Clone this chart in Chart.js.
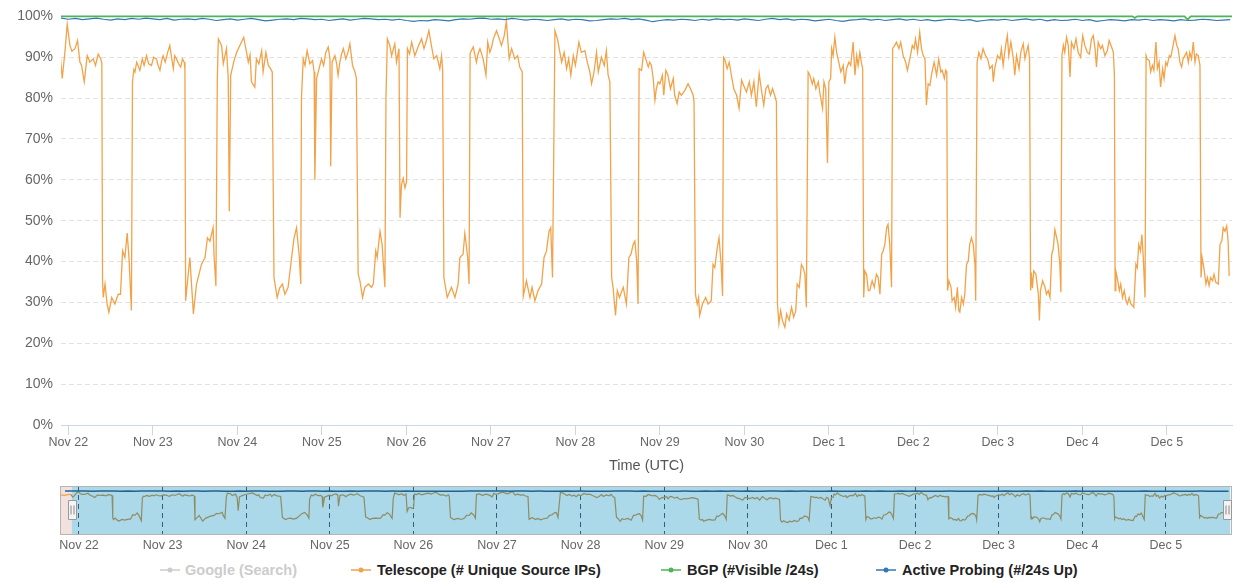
<!DOCTYPE html>
<html><head><meta charset="utf-8">
<script src="https://cdn.jsdelivr.net/npm/chart.js@4.4.1/dist/chart.umd.min.js"></script>
<style>
html,body{margin:0;padding:0;background:#fff;}
body{width:1236px;height:582px;position:relative;overflow:hidden;font-family:"Liberation Sans",Arial,Helvetica,sans-serif;}
#mainWrap{position:absolute;left:0;top:0;width:1236px;height:480px;}
#navWrap{position:absolute;left:0;top:480px;width:1236px;height:80px;}
.lg{position:absolute;top:561px;height:18px;line-height:18px;font-size:14.5px;font-weight:bold;color:#222;white-space:nowrap;}
.lg svg{position:absolute;top:4px;left:0;}
.lg span{position:absolute;top:0;}
</style></head>
<body>
<div id="mainWrap"><canvas id="main" width="1236" height="480"></canvas></div>
<div id="navWrap"><canvas id="nav" width="1236" height="80"></canvas></div>
<div id="legend"></div>
<script>
// ---- data (hours from Nov 22 00:00 UTC) ----
const dayHours = [0,24,48,72,96,120,144,168,192,216,240,264,288,312];
const dayLabels = ['Nov 22','Nov 23','Nov 24','Nov 25','Nov 26','Nov 27','Nov 28','Nov 29','Nov 30','Dec 1','Dec 2','Dec 3','Dec 4','Dec 5'];
const yTicks = [0,10,20,30,40,50,60,70,80,90,100];

const telescope = [
[-5.3,90.4],[-4.2,89.2],[-3.2,91.0],[-2.4,91.2],[-1.75,84.8],[-1.0,91.2],[-0.33,98.1],[0.43,92.9],[1.0,91.5],[1.85,92.1],[2.6,94.1],[3.27,88.8],[3.74,88.0],[4.5,84.0],[5.35,90.4],[6.1,88.8],[7.05,89.6],[7.7,88.0],[8.47,90.8],[9.2,89.6],[9.5,88.5],
[9.7,35.3],[9.9,31.2],[10.4,34.5],[11.0,29.6],[11.5,27.6],[12.3,31.2],[13.2,29.6],[14.15,32.0],[14.8,32.0],[15.4,42.6],[16.05,41.0],[16.7,47.0],[17.2,41.0],[17.9,28.0],
[18.2,84.0],[18.6,87.0],[18.9,86.4],[19.4,88.8],[19.8,88.0],[20.3,86.8],[21.0,89.6],[21.5,88.0],[22.2,90.4],[22.8,88.4],[23.6,88.0],[24.2,90.0],[25.0,89.6],[25.5,88.0],[26.0,86.8],[26.5,89.2],[26.9,90.4],[27.5,88.8],[28.2,91.2],[28.8,92.9],[29.3,90.0],[29.8,87.2],[30.2,90.4],[30.7,89.6],[31.3,88.4],[31.9,87.6],[32.4,89.6],[32.9,88.8],[33.1,87.0],
[33.3,30.4],[34.5,41.0],[35.5,27.2],[36.4,34.5],[37.8,39.3],[38.8,41.0],[39.5,45.8],[40.2,45.0],[41.1,48.3],[41.4,41.0],[41.9,34.0],
[42.3,85.0],[42.6,94.5],[43.5,92.9],[44.0,88.4],[44.9,92.1],[45.4,84.8],[45.7,52.3],[46.1,85.6],[47.0,89.0],[47.8,91.2],[48.7,92.9],[49.8,94.9],[50.6,91.2],[51.1,88.8],[51.6,90.6],[52.0,84.0],[52.96,82.7],[53.4,89.6],[54.1,88.4],[54.9,91.6],[55.3,86.4],[56.1,91.2],[56.8,88.0],[57.4,87.2],[57.9,86.4],
[58.4,36.1],[59.3,31.2],[60.0,33.5],[60.8,34.5],[61.5,32.0],[62.4,33.7],[63.4,41.0],[64.1,45.8],[64.8,48.3],[65.6,41.0],[66.0,34.5],
[66.2,80.0],[66.7,89.6],[67.2,88.0],[67.8,91.6],[68.6,88.4],[69.35,89.2],[69.8,86.4],[70.0,60.0],[70.5,84.8],[71.2,87.2],[71.9,89.6],[72.5,88.0],[73.1,91.2],[73.8,92.5],[74.3,89.6],[74.5,63.3],[74.9,88.8],[75.7,90.4],[76.2,88.4],[76.6,85.6],[77.1,88.8],[77.6,90.8],[78.1,92.1],[78.8,89.6],[79.4,91.2],[79.95,93.3],[80.7,88.0],[81.4,86.4],[81.8,84.8],
[82.3,36.9],[82.8,35.3],[83.55,31.2],[84.2,33.7],[85.2,34.5],[86.1,33.7],[86.6,34.5],[87.3,42.6],[87.7,41.0],[88.5,47.4],[89.1,44.2],[89.9,33.7],
[90.2,80.0],[90.6,94.5],[91.3,92.9],[91.8,90.4],[92.7,93.3],[93.2,88.8],[93.9,92.1],[94.2,50.7],[94.6,58.8],[95.1,60.4],[95.6,58.0],[96.05,59.5],[96.3,92.1],[96.9,90.8],[97.5,93.7],[98.4,90.4],[99.3,92.5],[100.3,94.5],[101.0,92.1],[101.7,94.1],[102.4,96.5],[103.1,92.9],[103.8,89.6],[104.6,90.4],[105.5,87.2],[106.0,90.4],[106.3,87.0],
[106.65,36.1],[107.6,31.2],[108.8,33.7],[109.8,31.2],[110.7,34.5],[111.2,41.0],[112.1,41.8],[112.6,46.9],[113.0,44.2],[113.4,41.0],[113.8,34.5],
[114.1,91.0],[115.0,92.5],[115.9,88.8],[116.4,91.0],[116.9,92.1],[117.8,89.6],[118.6,85.6],[119.1,93.7],[119.7,91.2],[120.2,92.5],[120.7,94.5],[121.6,96.5],[122.4,94.5],[123.0,92.9],[123.8,95.3],[124.4,98.9],[125.2,89.6],[125.9,92.1],[126.8,89.6],[127.6,90.4],[128.2,87.6],[128.9,86.4],
[129.2,31.5],[130.1,35.3],[131.1,31.2],[131.7,33.7],[132.5,30.4],[133.4,32.9],[134.4,34.5],[135.1,41.0],[135.8,42.6],[136.5,47.4],[137.0,48.3],[137.5,36.1],
[138.2,96.5],[138.9,94.5],[139.6,91.2],[140.1,88.8],[140.8,91.2],[141.5,87.2],[142.1,89.6],[142.7,85.6],[143.4,90.4],[144.0,88.0],[145.0,93.7],[145.7,91.2],[146.7,91.6],[147.4,88.8],[148.1,86.4],[148.6,83.5],[149.3,86.4],[150.0,91.2],[150.5,86.4],[151.4,90.0],[152.2,88.0],[152.8,91.6],[153.3,85.6],[153.8,84.0],
[154.3,36.1],[154.7,33.7],[155.4,26.8],[155.9,32.9],[156.5,31.2],[157.6,33.7],[158.5,29.6],[159.2,41.0],[159.8,41.8],[160.4,44.2],[160.9,45.0],[161.4,40.2],[161.8,29.6],
[162.1,87.2],[162.8,86.8],[163.4,91.2],[164.0,89.6],[164.7,87.6],[165.1,88.8],[165.6,88.0],[166.1,84.8],[166.6,79.5],[167.0,82.3],[167.5,84.0],[168.0,83.5],[168.7,85.6],[169.1,80.7],[169.7,86.8],[170.3,85.6],[171.0,82.3],[171.8,84.8],[172.2,80.7],[172.9,78.7],[173.5,81.5],[174.1,80.7],[175.1,81.9],[176.0,83.5],[176.7,82.3],[177.45,80.7],[177.7,79.0],
[178.1,32.0],[178.6,29.6],[179.0,31.2],[179.3,26.8],[180.1,29.6],[181.0,31.2],[181.7,29.6],[182.6,30.4],[183.1,39.3],[183.6,38.5],[184.3,43.4],[184.8,45.8],[185.4,39.3],[185.8,31.6],
[186.1,90.0],[186.4,89.6],[187.1,87.2],[187.7,88.8],[188.3,85.6],[189.0,82.3],[189.8,80.7],[190.5,77.5],[191.2,84.4],[191.8,83.1],[192.6,81.5],[193.4,84.0],[194.0,80.7],[194.7,84.0],[195.4,77.9],[196.2,86.0],[196.8,82.3],[197.5,78.3],[198.1,82.3],[198.7,83.1],[199.4,80.7],[200.0,82.3],[200.6,80.7],[201.1,79.1],
[201.4,29.6],[201.8,24.8],[202.3,28.0],[202.8,25.6],[203.5,23.9],[204.0,27.2],[204.7,25.6],[205.4,28.8],[206.0,26.4],[206.6,28.0],[207.0,34.5],[207.6,33.7],[208.2,39.3],[208.7,38.5],[209.2,36.9],[209.6,28.8],
[210.1,86.4],[210.6,85.6],[211.3,83.5],[211.7,84.8],[212.3,82.3],[213.0,84.0],[213.4,81.5],[214.2,77.5],[214.6,84.0],[215.1,82.3],[215.6,64.1],[216.0,84.0],[216.5,84.8],[216.8,92.1],[217.2,90.4],[217.7,94.9],[218.2,91.2],[218.8,88.8],[219.4,86.4],[220.1,88.0],[220.5,83.5],[221.0,87.2],[221.7,88.8],[222.2,88.0],[222.9,93.7],[223.4,85.6],[223.9,90.4],[224.3,88.0],[224.8,91.2],[225.3,88.4],[225.6,87.2],
[225.9,31.2],[226.2,37.7],[226.7,36.9],[227.2,32.9],[227.6,32.9],[228.3,35.3],[228.9,33.7],[229.5,36.9],[230.0,36.1],[230.5,32.0],[231.0,41.8],[231.4,42.6],[231.9,44.2],[232.4,48.3],[232.8,49.1],[233.3,44.2],[233.8,33.7],
[234.1,92.1],[234.7,92.9],[235.2,93.7],[235.9,92.1],[236.4,93.7],[237.1,90.4],[237.8,88.8],[238.3,86.8],[239.0,89.6],[239.7,92.9],[240.2,92.1],[240.6,94.5],[241.2,91.2],[241.8,96.1],[242.3,92.1],[242.8,90.4],[243.3,89.6],[243.7,78.3],[244.2,83.5],[244.7,83.1],[245.2,86.0],[245.9,88.8],[246.6,85.6],[247.2,89.6],[247.8,86.4],[248.2,86.8],[248.8,84.8],[249.2,86.8],[249.5,86.4],
[249.7,32.9],[250.1,35.3],[250.7,33.7],[251.0,30.4],[251.6,31.2],[252.0,28.8],[252.5,33.7],[252.9,28.0],[253.2,27.6],[253.7,31.2],[254.2,29.6],[254.6,32.0],[255.1,39.3],[255.6,40.2],[256.0,44.2],[256.5,45.8],[257.0,44.2],[257.5,39.3],[257.7,30.4],
[258.1,88.8],[258.6,91.2],[259.2,89.6],[259.8,92.1],[260.5,90.4],[261.1,89.6],[261.7,87.2],[262.4,88.0],[262.7,84.0],[263.1,87.2],[263.9,90.4],[264.6,89.6],[265.0,92.1],[265.5,88.0],[266.2,92.9],[266.7,95.3],[267.1,90.4],[267.7,93.7],[268.4,89.6],[268.8,85.6],[269.3,90.4],[270.0,87.2],[270.5,91.2],[271.2,93.3],[271.7,89.6],[272.1,91.2],[272.6,92.9],[273.0,89.6],
[273.3,32.9],[273.5,37.3],[273.8,33.5],[274.2,37.7],[274.8,36.9],[275.5,32.0],[275.8,25.6],[276.1,32.9],[276.7,35.3],[277.4,33.7],[277.8,32.0],[278.3,32.9],[278.8,31.2],[279.3,41.8],[279.7,43.0],[280.2,47.8],[280.7,45.8],[281.1,44.2],[281.6,39.3],[281.9,32.5],
[282.2,90.4],[282.6,92.9],[283.0,91.2],[283.5,94.9],[284.0,92.9],[284.5,85.2],[284.9,93.7],[285.6,92.1],[286.2,94.5],[286.8,91.2],[287.5,90.0],[288.1,95.3],[288.7,92.9],[289.4,91.2],[290.0,90.8],[290.6,94.5],[291.1,95.3],[291.6,92.1],[292.0,87.6],[292.5,93.7],[293.2,92.1],[293.7,92.9],[294.4,90.4],[295.1,91.6],[295.6,94.1],[296.3,92.5],[296.8,91.2],[297.1,85.6],
[297.3,32.9],[297.5,37.7],[297.9,36.1],[298.5,32.9],[298.9,34.5],[299.4,31.2],[299.9,32.9],[300.4,30.4],[300.8,29.6],[301.3,31.2],[301.8,29.6],[302.3,29.2],[302.6,28.8],[303.2,39.3],[303.6,38.5],[304.0,44.2],[304.5,42.6],[304.9,46.6],[305.3,41.0],[305.8,31.2],
[306.1,90.4],[306.4,89.6],[307.0,89.2],[307.4,86.4],[307.9,88.0],[308.3,86.8],[308.9,93.7],[309.3,87.2],[309.8,88.8],[310.2,82.7],[310.8,87.2],[311.2,84.8],[311.7,88.8],[312.1,88.0],[312.7,90.4],[313.1,90.0],[313.6,92.1],[314.3,95.3],[314.8,92.9],[315.2,92.1],[315.7,88.8],[316.2,87.6],[316.6,89.6],[317.1,90.4],[317.6,91.2],[318.1,88.8],[318.5,91.2],[319.0,89.6],[319.5,93.7],[320.0,88.8],[320.4,90.8],[320.9,90.4],[321.4,88.0],
[321.7,36.1],[322.0,41.0],[322.5,38.5],[323.1,34.5],[323.5,36.1],[324.0,34.1],[324.4,36.1],[325.0,35.3],[325.4,36.9],[325.9,34.9],[326.6,34.5],[327.1,44.2],[327.6,45.0],[328.0,48.3],[328.5,47.4],[329.0,48.7],[329.4,45.0],[329.7,36.5]
];

const bgp = [[-5.4,100],[302.2,100],[302.9,99.6],[303.6,100],[317.0,100],[317.9,99.2],[318.8,100],[331,100]];

// active probing, every 2 hours from -4h
const apStart = -4, apStep = 2;
const apValues = [
99.5,99.6,99.3,99.5,99.2,99.4,99.6,99.3,99.1,99.4,99.2,99.5,
99.3,99.6,99.4,99.2,99.5,99.1,99.3,99.4,99.2,99.5,99.3,99.0,
99.2,99.4,99.1,99.3,99.5,99.2,98.9,99.1,99.3,99.4,99.2,99.5,
99.4,99.2,99.3,99.0,99.2,99.4,99.1,99.3,99.5,99.4,99.2,99.3,
99.1,99.3,99.0,98.8,99.0,98.9,99.2,99.1,98.9,99.2,99.4,99.3,
99.5,99.6,99.3,99.4,99.2,99.5,99.3,99.1,99.3,99.2,99.0,99.2,
99.4,99.1,99.3,99.2,98.9,99.0,99.2,99.4,99.3,99.5,99.2,99.4,
99.1,98.7,99.0,99.2,99.1,99.3,99.2,99.0,99.3,99.1,99.4,99.2,
99.3,99.1,99.4,99.2,99.0,99.3,99.5,99.2,99.4,99.1,99.3,99.2,
98.9,99.1,99.3,99.0,98.8,99.1,99.2,99.4,99.1,99.3,99.0,99.2,
99.4,99.1,99.3,99.0,99.2,98.9,99.1,99.3,99.2,99.0,99.2,98.8,
99.0,99.2,99.1,99.3,99.0,99.2,99.4,99.1,99.3,98.9,99.2,99.0,
99.1,99.3,99.0,99.2,98.8,99.0,99.2,99.1,98.9,99.2,99.1,99.3,
99.0,99.2,99.1,98.9,99.2,99.0,99.1,99.3,99.2,99.0,99.1,99.2
];

const legendNames = ['Google (Search)','Telescope (# Unique Source IPs)','BGP (#Visible /24s)','Active Probing (#/24s Up)'];
const legendShown = [false,true,true,true];

// ---- styling ----
const FONT = '"Liberation Sans", Arial, Helvetica, sans-serif';
const C_TELE = '#f2a248', C_BGP = '#4fb453', C_AP = '#3377b3', C_GOOGLE = '#cccccc';
const legendColors = [C_GOOGLE, C_TELE, C_BGP, C_AP];
const legendX = [160, 351, 661, 876];

const telePts = telescope.map(p => ({x:p[0], y:p[1]}));
const bgpPts = bgp.map(p => ({x:p[0], y:p[1]}));
const apPts = apValues.map((v,i) => ({x: apStart + i*apStep, y: v}));

const MAIN_MIN = -2.1, MAIN_MAX = 330.5;

new Chart(document.getElementById('main'), {
  type: 'line',
  data: { datasets: [
    {label: legendNames[2], data: bgpPts, borderColor: C_BGP, borderWidth: 1.6, clip: {left: 0, right: 0, top: 3, bottom: 0}},
    {label: legendNames[3], data: apPts, borderColor: C_AP, borderWidth: 1.2},
    {label: legendNames[1], data: telePts, borderColor: C_TELE, borderWidth: 1.3}
  ]},
  options: {
    responsive: false, animation: false, devicePixelRatio: 1,
    parsing: false,
    layout: {padding: {left: 0, right: 4, top: 14, bottom: 0}},
    elements: {point: {radius: 0}, line: {tension: 0}},
    plugins: {legend: {display: false}, tooltip: {enabled: false}},
    scales: {
      x: {
        type: 'linear', min: MAIN_MIN, max: MAIN_MAX,
        afterBuildTicks: s => { s.ticks = dayHours.map(v => ({value: v})); },
        ticks: {callback: (v, i) => dayLabels[i], autoSkip: false, maxRotation: 0, color: '#666', font: {family: FONT, size: 12.5}, padding: 0},
        grid: {drawOnChartArea: false, drawTicks: true, tickLength: 10, tickColor: '#ccd6eb', color: '#ccd6eb'},
        border: {display: true, color: '#ccd6eb', width: 1},
        title: {display: true, text: 'Time (UTC)', color: '#555', font: {family: FONT, size: 14.5}, padding: {top: 4, bottom: 5}},
        afterFit: s => { s.height = 55; }
      },
      y: {
        min: 0, max: 100,
        afterBuildTicks: s => { s.ticks = yTicks.map(v => ({value: v})); },
        ticks: {callback: v => v + '%', color: '#666', font: {family: FONT, size: 14}, padding: 8},
        grid: {color: c => (c.tick && c.tick.value === 0) ? 'rgba(0,0,0,0)' : '#e2e2e2', drawTicks: false, lineWidth: 1},
        border: {display: false, dash: [5, 3]},
        afterFit: s => { s.width = 61; }
      }
    }
  }
});

// ---- navigator ----
const navDeco = {
  id: 'navDeco',
  beforeDraw(chart) {
    const {ctx, chartArea: a, scales: {x}} = chart;
    const sx = x.getPixelForValue(MAIN_MIN), ex = x.getPixelForValue(MAIN_MAX);
    ctx.save();
    ctx.fillStyle = '#f3e1dd';
    ctx.fillRect(a.left, a.top, sx - a.left, a.bottom - a.top);
    ctx.fillStyle = '#abd9e9';
    ctx.fillRect(sx, a.top, ex - sx, a.bottom - a.top);
    ctx.restore();
  },
  afterDraw(chart) {
    const {ctx, chartArea: a, scales: {x}} = chart;
    ctx.save();
    ctx.strokeStyle = '#b5b5b5'; ctx.lineWidth = 1;
    ctx.strokeRect(a.left + 0.5, a.top + 0.5, a.right - a.left - 1, a.bottom - a.top - 1);
    const hs = [x.getPixelForValue(MAIN_MIN), Math.min(x.getPixelForValue(MAIN_MAX), a.right - 5)];
    hs.forEach(px => {
      const cx = Math.round(px) + 0.5, top = a.top + 14.5, h = 19, w = 8;
      ctx.fillStyle = '#f4f4f4'; ctx.strokeStyle = '#999';
      ctx.beginPath(); ctx.rect(cx - w/2, top, w, h); ctx.fill(); ctx.stroke();
      ctx.beginPath();
      ctx.moveTo(cx - 1.5, top + 5); ctx.lineTo(cx - 1.5, top + h - 5);
      ctx.moveTo(cx + 1.5, top + 5); ctx.lineTo(cx + 1.5, top + h - 5);
      ctx.strokeStyle = '#888'; ctx.stroke();
    });
    ctx.restore();
  }
};

new Chart(document.getElementById('nav'), {
  type: 'line',
  data: { datasets: [
    {data: apPts, borderColor: '#2a6a9c', borderWidth: 1.5,
     segment: {borderColor: c => apPts[c.p1DataIndex].x <= MAIN_MIN ? C_AP : '#24618f'}},
    {data: telePts, borderColor: '#8e8c64', borderWidth: 1.2,
     segment: {borderColor: c => telescope[c.p1DataIndex][0] <= MAIN_MIN ? C_TELE : '#8e8c64'}}
  ]},
  options: {
    responsive: false, animation: false, devicePixelRatio: 1,
    parsing: false,
    layout: {padding: {left: 60, right: 4, top: 6, bottom: 0}},
    elements: {point: {radius: 0}, line: {tension: 0}},
    plugins: {legend: {display: false}, tooltip: {enabled: false}},
    scales: {
      x: {
        type: 'linear', min: -5.45, max: 331,
        afterBuildTicks: s => { s.ticks = dayHours.map(v => ({value: v})); },
        ticks: {callback: (v, i) => dayLabels[i], autoSkip: false, maxRotation: 0, color: '#666', font: {family: FONT, size: 12.5}, padding: 3},
        grid: {drawOnChartArea: true, drawTicks: false, color: 'rgba(35,70,100,0.85)', lineWidth: 1},
        border: {display: false, dash: [5, 4]},
        afterFit: s => { s.height = 25; }
      },
      y: {display: false, min: -6, max: 111.5}
    }
  },
  plugins: [navDeco]
});

// ---- legend ----
const lg = document.getElementById('legend');
legendNames.forEach((name, i) => {
  const d = document.createElement('div');
  d.className = 'lg';
  d.style.left = legendX[i] + 'px';
  const col = legendColors[i];
  d.innerHTML = '<svg width="20" height="10"><line x1="0" y1="5" x2="20" y2="5" stroke="' + col + '" stroke-width="1.5"/><circle cx="10" cy="5" r="2.5" fill="' + col + '"/></svg>' +
    '<span style="left:' + (i === 0 ? 25 : 26) + 'px;color:' + (legendShown[i] ? '#222' : '#cccccc') + '">' + name + '</span>';
  lg.appendChild(d);
});
</script>
</body></html>
